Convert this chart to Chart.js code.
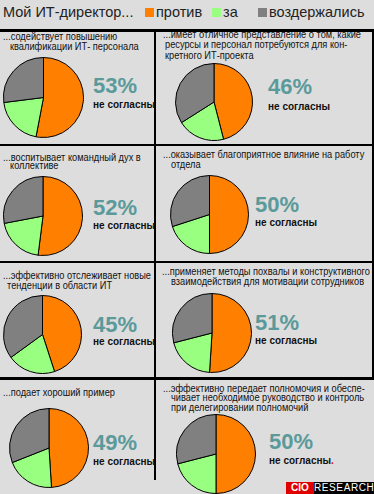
<!DOCTYPE html>
<html><head><meta charset="utf-8">
<script src="https://cdn.jsdelivr.net/npm/chart.js@4.4.0/dist/chart.umd.min.js"></script>
<style>
html,body{margin:0;padding:0;background:#dddddd;}
#wrap{position:relative;width:374px;height:494px;overflow:hidden;background:#dddddd;font-family:"Liberation Sans",Arial,sans-serif;color:#111;}
.abs{position:absolute;}
.line{position:absolute;background:#000;}
.cap{position:absolute;font-size:10.5px;white-space:nowrap;color:#111;transform:scaleX(0.88);transform-origin:0 0;}
.pct{position:absolute;font-size:22px;line-height:22px;font-weight:bold;color:#5b9a9a;white-space:nowrap;}
.ns{position:absolute;font-size:10px;line-height:10px;font-weight:bold;color:#111;white-space:nowrap;}
canvas{position:absolute;}
</style></head>
<body><div id="wrap"></div>
<script>
// ---- data ----
const title = "Мой ИТ-директор...";
const categories = ["против", "за", "воздержались"];
const topics = [
  "...содействует повышению\nквалификации ИТ- персонала",
  "...имеет отличное представление о том, какие\nресурсы и персонал потребуются для кон-\nкретного ИТ-проекта",
  "...воспитывает командный дух в\nколлективе",
  "...оказывает благоприятное влияние на работу\nотдела",
  "...эффективно отслеживает новые\nтенденции в  области ИТ",
  "...применяет методы похвалы и конструктивного\nвзаимодействия для мотивации сотрудников",
  "...подает хороший пример",
  "...эффективно передает полномочия и обеспе-\nчивает необходимое руководство и контроль\nпри делегировании полномочий"
];
const against   = [53, 46, 52, 50, 45, 51, 49, 50];
const inFavor   = [20, 20, 20, 20, 20, 20, 20, 21];
const abstained = [27, 34, 28, 30, 35, 29, 31, 29];
const disagreeLabel = "не согласны";

// ---- styles / layout ----
const colors = ["#ff8000", "#99ff80", "#808080"];
const layout = [
  {cx:43,   cy:97,    d:80, capX:3,   capTop:30.5,lh:10.5, ind:7, px:93,  pb:94,  nb:108},
  {cx:214,  cy:102,   d:77, capX:163, capTop:28.5,lh:10.5, ind:2, px:268, pb:95,  nb:110},
  {cx:42.5, cy:216,   d:79, capX:3,   capTop:152, lh:8,    ind:7, px:93,  pb:216, nb:229},
  {cx:209.5,cy:214,   d:78, capX:163, capTop:148.5,lh:10,  ind:8, px:255, pb:213, nb:226},
  {cx:42.5, cy:334.5, d:78, capX:3,   capTop:270, lh:10,   ind:4, px:93,  pb:333, nb:345},
  {cx:211.5,cy:332.5, d:79, capX:162, capTop:266, lh:10,   ind:9, px:255, pb:331, nb:344},
  {cx:49,   cy:447.5, d:79, capX:3,   capTop:387, lh:10,   ind:7, px:93,  pb:451, nb:465},
  {cx:216,  cy:453.5, d:79, capX:163, capTop:382.5,lh:9.5, ind:8, px:269, pb:450, nb:464}
];

const wrap = document.getElementById('wrap');
function el(tag, cls, css, html){const e=document.createElement(tag); if(cls)e.className=cls; if(css)e.style.cssText=css; if(html!==undefined)e.innerHTML=html; wrap.appendChild(e); return e;}

// title & legend
el('div','abs','left:3px;top:3px;font-size:14.5px;line-height:18px;color:#222;white-space:nowrap;',title);
const legX = [145, 212, 258];
categories.forEach((c,i)=>{
  el('div','abs',`left:${legX[i]}px;top:8px;width:9px;height:9px;background:${colors[i]};`);
  el('div','abs',`left:${legX[i]+11}px;top:3px;font-size:14.5px;line-height:18px;color:#222;white-space:nowrap;`,c);
});

// frame lines
el('div','line','left:0;top:29px;width:374px;height:3px;');
el('div','line','left:0;top:144px;width:374px;height:2px;');
el('div','line','left:0;top:261px;width:374px;height:2px;');
el('div','line','left:0;top:377px;width:374px;height:3px;');
el('div','line','left:154px;top:32px;width:2px;height:345px;');
el('div','line','left:154px;top:380px;width:2px;height:100px;');
el('div','line','left:372px;top:32px;width:2px;height:345px;');

// panels
topics.forEach((t,i)=>{
  const L = layout[i];
  const lines = t.split("\n");
  lines.forEach((ln,j)=>{
    el('div','cap',`left:${L.capX + (j?L.ind:0)}px;top:${L.capTop + j*L.lh}px;line-height:11px;`, ln);
  });
  el('div','pct',`left:${L.px}px;top:${L.pb-18.6}px;`, against[i] + "%");
  const last = (i===topics.length-1) ? '<span style="color:#e00">.</span>' : '';
  el('div','ns',`left:${L.px}px;top:${L.nb-8.5}px;`, disagreeLabel + last);

  const S = L.d + 1;
  const cv = el('canvas');
  cv.width = S; cv.height = S;
  cv.style.left = (L.cx - S/2) + 'px';
  cv.style.top = (L.cy - S/2) + 'px';
  cv.style.width = S + 'px'; cv.style.height = S + 'px';
  new Chart(cv, {
    type: 'pie',
    data: {
      labels: categories,
      datasets: [{
        data: [against[i], inFavor[i], abstained[i]],
        backgroundColor: colors,
        borderColor: '#000',
        borderWidth: 1,
        hoverOffset: 0
      }]
    },
    options: {
      responsive: false,
      animation: false,
      devicePixelRatio: 1,
      layout: {padding: 0},
      plugins: {legend: {display: false}, tooltip: {enabled: false}}
    }
  });
});

// logo
el('div','abs','left:286px;top:482px;width:28px;height:12px;background:#e00000;color:#fff;font-weight:bold;font-size:10px;line-height:12px;text-align:center;','CIO');
el('div','abs','left:314px;top:482px;width:60px;height:12px;background:#000;color:#fff;font-size:10px;line-height:12px;text-align:center;letter-spacing:0.6px;','RESEARCH');
</script>
</body></html>
